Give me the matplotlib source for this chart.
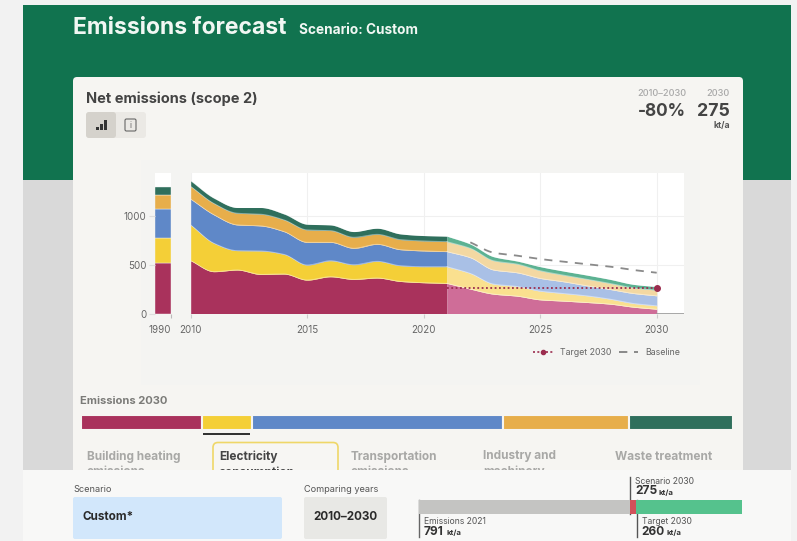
import numpy as np
import matplotlib
matplotlib.use("Agg")
import matplotlib.pyplot as plt
from matplotlib.lines import Line2D
from matplotlib.patches import FancyBboxPatch, Rectangle

plt.rcParams["font.family"] = ["Inter", "DejaVu Sans"]

W, H = 797, 541

# Emissions by sector, kt/a
hist_years = [2010, 2011, 2012, 2013, 2014, 2015, 2016, 2017, 2018, 2019, 2020, 2021]
heating_hist = [540, 428, 445, 400, 404, 342, 376, 349, 363, 328, 315, 308]
electricity_hist = [366, 290, 198, 240, 201, 154, 164, 150, 171, 161, 164, 171]
transport_hist = [264, 291, 263, 256, 233, 232, 188, 168, 174, 164, 161, 154]
industry_hist = [130, 116, 120, 120, 120, 127, 120, 113, 102, 103, 102, 102]
waste_hist = [58, 55, 58, 68, 61, 58, 58, 58, 62, 58, 55, 56]

fc_years = [2021, 2022, 2023, 2024, 2025, 2026, 2027, 2028, 2029, 2030]
heating_fc = [308, 250, 198, 178, 140, 127, 113, 96, 65, 44]
electricity_fc = [171, 160, 103, 99, 89, 78, 68, 51, 38, 35]
transport_fc = [154, 161, 144, 140, 130, 120, 103, 99, 102, 102]
industry_fc = [102, 96, 95, 89, 79, 68, 68, 62, 58, 58]
waste_fc = [56, 44, 41, 31, 41, 41, 41, 41, 35, 36]

year_1990 = [513, 263, 291, 147, 82]

baseline_years = [2022, 2023, 2024, 2025, 2026, 2027, 2028, 2029, 2030]
baseline = [728, 622, 592, 557, 530, 503, 479, 445, 417]
target_years = [2021, 2030]
target = [263, 263]

share_2030 = [51, 21, 106, 53, 44]
emissions_2021 = 791
scenario_2030 = 275
target_2030 = 260

sector_tabs = ["Building heating\nemissions", "Electricity\nconsumption",
               "Transportation\nemissions", "Industry and\nmachinery", "Waste treatment"]

hist_colors = ["#a9325c", "#f4cf37", "#5f88c8", "#e7ae4b", "#2f6f5c"]
fc_colors = ["#cf6d98", "#fae08f", "#a9c0e6", "#f3d8a2", "#5cb292"]


def smooth(xs, ys, per_year=24):
    """Monotone cubic (PCHIP) curve through yearly values, for drawing."""
    xs, ys = np.asarray(xs, float), np.asarray(ys, float)
    h = np.diff(xs)
    d = np.diff(ys) / h
    m = np.zeros_like(ys)
    for i in range(1, len(ys) - 1):
        if d[i - 1] * d[i] > 0:
            m[i] = 2 * d[i - 1] * d[i] / (d[i - 1] + d[i])
    m[0], m[-1] = d[0], d[-1]
    out_x, out_y = [], []
    for i in range(len(h)):
        t = np.linspace(0, 1, per_year, endpoint=i == len(h) - 1)
        out_x.append(xs[i] + t * h[i])
        out_y.append((2*t**3 - 3*t**2 + 1) * ys[i] + (t**3 - 2*t**2 + t) * h[i] * m[i]
                     + (-2*t**3 + 3*t**2) * ys[i + 1] + (t**3 - t**2) * h[i] * m[i + 1])
    return np.concatenate(out_x), np.concatenate(out_y)


def px_axes(fig, left, top, right, bottom, **kw):
    return fig.add_axes([left / W, 1 - bottom / H, (right - left) / W, (bottom - top) / H], **kw)


fig = plt.figure(figsize=(W / 100, H / 100), dpi=100, facecolor="#f2f2f2")

# Page furniture, laid out in pixel coordinates
page = fig.add_axes([0, 0, 1, 1], zorder=0)
page.set_xlim(0, W)
page.set_ylim(H, 0)
page.axis("off")


def rect(x0, y0, x1, y1, color, z=1, **kw):
    page.add_patch(Rectangle((x0, y0), x1 - x0, y1 - y0, facecolor=color, edgecolor="none", zorder=z, **kw))


def rrect(x0, y0, x1, y1, face, edge="none", r=4, z=1, lw=0):
    page.add_patch(FancyBboxPatch((x0 + r, y0 + r), x1 - x0 - 2 * r, y1 - y0 - 2 * r,
                                  boxstyle=f"round,pad={r},rounding_size={r}",
                                  facecolor=face, edgecolor=edge, linewidth=lw, zorder=z))


def label(x, y, s, size, color="#444444", weight="normal", ha="left", va="center", z=5):
    page.text(x, y, s, fontsize=size, color=color, fontweight=weight, ha=ha, va=va, zorder=z)


rect(23, 180, 791, 475, "#d9d9d9")
rect(23, 5, 791, 180, "#11734f")
rrect(73, 77, 743, 480, "#f6f5f2", z=2)
rect(141, 160, 700, 385, "#f4f4f2", z=2)

label(73, 27.5, "Emissions forecast", 16.5, "#f1f7f3", "bold")
label(299, 29.5, "Scenario: Custom", 9.8, "#f1f7f3", "bold")
label(86, 99, "Net emissions (scope 2)", 10.5, "#444444", "bold")

rrect(86, 112, 146, 138, "#ebe9e5", r=3, z=3)
rrect(86, 112, 116, 138, "#d5d2cc", r=3, z=3)
for bx, top_y in [(97.5, 127), (101.5, 124), (105.5, 120)]:
    rect(bx - 1.3, top_y, bx + 1.3, 130, "#333333", z=4)
rrect(125, 119, 136, 131, "none", edge="#666666", r=1.5, z=4, lw=0.8)
label(130.5, 125, "i", 6, "#666666", ha="center")

label(686, 94, "2010–2030", 6.6, "#a8a8a8", "medium", ha="right")
label(730, 94, "2030", 6.6, "#a8a8a8", "medium", ha="right")
label(686, 112, "-80%", 12.4, "#444444", "bold", ha="right")
label(730, 112, "275", 12.8, "#444444", "bold", ha="right")
label(730, 125.5, "kt/a", 6.2, "#555555", "bold", ha="right")

label(80, 401, "Emissions 2030", 8.0, "#7b7b78", "bold")
rect(203, 432.5, 250, 435, "#333333", z=4)

rrect(213, 442.5, 338, 500, "#f7f6f3", edge="#efd768", r=5, z=3, lw=1.2)
tab_pos = [(87, "#a8a8a6"), (219, "#444444"), (351, "#a8a8a6"), (483, "#a8a8a6"), (615, "#a8a8a6")]
for (tx, tc), tab in zip(tab_pos, sector_tabs):
    page.text(tx, 450.5, tab, fontsize=8.5, color=tc, fontweight="bold", ha="left", va="top",
              linespacing=1.36, zorder=5)

# Status bar across the foot of the page
rect(23, 470, 791, 541, "#f8f8f7", z=6)
label(73, 489, "Scenario", 6.6, "#555555", z=7)
label(304, 489, "Comparing years", 6.6, "#555555", z=7)
rrect(73, 497, 282, 539, "#d2e7fb", r=2, z=7)
rrect(304, 497, 387, 539, "#e8e8e5", r=2, z=7)
label(83, 517.5, "Custom*", 8.4, "#2a2a2a", "bold", z=8)
label(313, 517.5, "2010–2030", 8.4, "#2a2a2a", "bold", z=8)

# Emissions 2030 sector strip
strip = px_axes(fig, 81, 414.5, 733, 429.5, zorder=3)
strip.set_xlim(0, sum(share_2030))
strip.set_ylim(0, 1)
strip.axis("off")
strip_left = np.concatenate([[0], np.cumsum(share_2030)[:-1]])
strip.barh(0.5, share_2030, left=strip_left, height=1, color=hist_colors,
           edgecolor="#f6f5f2", linewidth=1.5)

# Scenario versus target comparison bar
cmp_ax = px_axes(fig, 419, 500, 742.5, 514, zorder=8)
cmp_ax.set_xlim(emissions_2021, 0)
cmp_ax.set_ylim(0, 1)
cmp_ax.axis("off")
cmp_ax.barh(0.5, emissions_2021 - scenario_2030, left=scenario_2030, height=1, color="#c4c4c2")
cmp_ax.barh(0.5, scenario_2030 - target_2030, left=target_2030, height=1, color="#d2515a")
cmp_ax.barh(0.5, target_2030, left=0, height=1, color="#55c28d")

page.plot([419.5, 419.5], [500, 537], color="#666666", lw=1, zorder=9)
page.plot([630.5, 630.5], [477, 514], color="#555555", lw=1, zorder=9)
page.plot([637, 637], [500, 537], color="#555555", lw=1, zorder=9)
label(635, 481, "Scenario 2030", 6.2, "#555555", z=9)
label(635.5, 491.5, "275", 8.6, "#333333", "bold", z=9)
label(659, 492.5, "kt/a", 5.6, "#333333", "bold", z=9)
label(424, 521, "Emissions 2021", 6.2, "#555555", z=9)
label(424, 532, "791", 8.6, "#333333", "bold", z=9)
label(447, 533, "kt/a", 5.6, "#333333", "bold", z=9)
label(642, 521, "Target 2030", 6.2, "#555555", z=9)
label(641.5, 532, "260", 8.6, "#333333", "bold", z=9)
label(667, 533, "kt/a", 5.6, "#333333", "bold", z=9)

# Chart panels: a single 1990 column and the 2010-2030 stacked area
ymax = 1440
left_ax = px_axes(fig, 155, 172.7, 171, 313.5, zorder=3)
ax = px_axes(fig, 190.7, 172.7, 684, 313.5, zorder=3)

left_ax.set_xlim(0, 1)
left_ax.set_ylim(0, ymax)
left_ax.bar(0.5, year_1990, width=1, bottom=np.concatenate([[0], np.cumsum(year_1990)[:-1]]),
            color=hist_colors, edgecolor="#f3f3f3", linewidth=0.3)
left_ax.set_xticks([1], ["1990"], ha="right")
left_ax.set_yticks([0, 500, 1000], ["0", "500", "1000"])
left_ax.tick_params(axis="y", length=4, color="#dddddd", labelsize=7, labelcolor="#666666", pad=2)
left_ax.tick_params(axis="x", length=3, color="#bbbbbb", labelsize=7, labelcolor="#666666", pad=5)

x_end = 2010 + (684 - 190.7) / 23.3
ax.set_xlim(2010, x_end)
ax.set_ylim(0, ymax)
ax.set_xticks([2010, 2015, 2020, 2025, 2030], ["2010", "2015", "2020", "2025", "2030"])
ax.set_yticks([0, 500, 1000], [])
ax.tick_params(axis="y", length=0)
ax.tick_params(axis="x", length=3, color="#cccccc", labelsize=7, labelcolor="#666666", pad=5)
ax.grid(True, color="#f0f0f0", lw=0.8, zorder=0)
ax.set_axisbelow(True)

for a in (left_ax, ax):
    a.set_facecolor("white")
    for s in a.spines.values():
        s.set_visible(False)


def stacked(years, layers, colors, z):
    base = None
    for vals, col in zip(np.cumsum(np.array(layers, float), axis=0), colors):
        sx, sy = smooth(years, vals)
        lower = np.zeros_like(sy) if base is None else base
        ax.fill_between(sx, lower, sy, color=col, lw=0, zorder=z)
        ax.plot(sx, sy, color="#ffffff", alpha=0.45, lw=0.6, zorder=z + 0.1)
        base = sy


stacked(hist_years, [heating_hist, electricity_hist, transport_hist, industry_hist, waste_hist],
        hist_colors, 3)
stacked(fc_years, [heating_fc, electricity_fc, transport_fc, industry_fc, waste_fc], fc_colors, 3)

bx, by = smooth(baseline_years, baseline)
ax.plot(bx, by, color="#8a8a8a", lw=1.3, dashes=(4.5, 4), zorder=5)
ax.plot(target_years, target, color="#9b2c4e", lw=1.3, dashes=(1, 1.4), zorder=6)
ax.plot(target_years[-1], target[-1], "o", color="#9b2c4e", ms=4, zorder=7, clip_on=False)
ax.plot([2030, x_end], [0, 0], color="#999999", lw=1.2, zorder=6)

legend_handles = [
    Line2D([], [], color="#9b2c4e", lw=1.2, dashes=(1.2, 1.4), marker="o", ms=3),
    Line2D([], [], color="#777777", lw=1.2, dashes=(5, 4)),
]
ax.legend(legend_handles, ["Target 2030", "Baseline"], ncol=2, frameon=False, fontsize=6.3,
          labelcolor="#666666", handlelength=2.2, handletextpad=0.8, columnspacing=0.9,
          loc="center right", bbox_to_anchor=(0.9919, -0.275), borderaxespad=0, borderpad=0)

fig.savefig("out.png", dpi=100)
